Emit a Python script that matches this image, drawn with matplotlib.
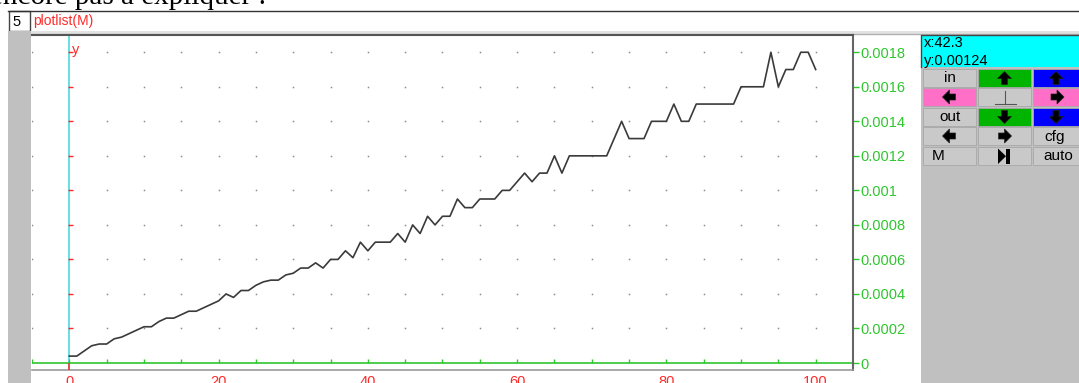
import matplotlib
matplotlib.use("Agg")
import matplotlib.pyplot as plt
from matplotlib.patches import Rectangle, Polygon
import numpy as np

plt.rcParams['font.family'] = ['Liberation Sans', 'DejaVu Sans']

# ---------------- data ----------------
M = [0.00004, 0.00004, 0.00007, 0.0001, 0.00011, 0.00011, 0.00014, 0.00015, 0.00017, 0.00019,
     0.00021, 0.00021, 0.00024, 0.00026, 0.00026, 0.00028, 0.0003, 0.0003, 0.00032, 0.00034,
     0.00036, 0.0004, 0.00038, 0.00042, 0.00042, 0.00045, 0.00047, 0.00048, 0.00048, 0.00051,
     0.00052, 0.00055, 0.00055, 0.00058, 0.00055, 0.0006, 0.0006, 0.00065, 0.00061, 0.0007,
     0.00065, 0.0007, 0.0007, 0.0007, 0.00075, 0.0007, 0.0008, 0.00075, 0.00085, 0.0008,
     0.00085, 0.00085, 0.00095, 0.0009, 0.0009, 0.00095, 0.00095, 0.00095, 0.001, 0.001,
     0.00105, 0.0011, 0.00105, 0.0011, 0.0011, 0.0012, 0.0011, 0.0012, 0.0012, 0.0012,
     0.0012, 0.0012, 0.0012, 0.0013, 0.0014, 0.0013, 0.0013, 0.0013, 0.0014, 0.0014,
     0.0014, 0.0015, 0.0014, 0.0014, 0.0015, 0.0015, 0.0015, 0.0015, 0.0015, 0.0015,
     0.0016, 0.0016, 0.0016, 0.0016, 0.0018, 0.0016, 0.0017, 0.0017, 0.0018, 0.0018,
     0.0017]
x_ticks = [0, 20, 40, 60, 80, 100]
x_tick_labels = ['0', '20', '40', '60', '80', '100']
y_ticks = [0, 0.0002, 0.0004, 0.0006, 0.0008, 0.001, 0.0012, 0.0014, 0.0016, 0.0018]
y_tick_labels = ['0', '0.0002', '0.0004', '0.0006', '0.0008', '0.001', '0.0012',
                 '0.0014', '0.0016', '0.0018']
grid_x = list(range(-5, 106, 5))
cursor_lines = ['x:42.3', 'y:0.00124']
title_cmd = 'plotlist(M)'
line_no = '5'
prev_text = 'encore pas à expliquer :'

RED = '#ff2a2a'
GREEN = '#2fc62f'
CYAN_AX = '#3fd6d6'
PANEL = '#c0c0c0'
BTN = '#c9c9c9'

W, H = 1079, 383
fig = plt.figure(figsize=(W / 100, H / 100), dpi=100)
fig.patch.set_facecolor('white')

# ---------------- GUI background (pixel coordinates) ----------------
bg = fig.add_axes([0, 0, 1, 1], zorder=0)
bg.set_xlim(0, W)
bg.set_ylim(H, 0)
bg.axis('off')

bg.text(-10, 3.5, prev_text, family='Liberation Serif', fontsize=21, color='black', va='baseline')
bg.plot([8, W], [11, 11], color='#333333', lw=1)
bg.add_patch(Rectangle((9, 11), 21, 20, facecolor='white', edgecolor='#444444', lw=1))
bg.text(12, 21.5, line_no, fontsize=10.5, color='black', va='center')
bg.text(33, 21, title_cmd, fontsize=10, color=RED, va='center')
bg.add_patch(Rectangle((31, 31), W - 31, 4, facecolor='#e2e2e2', edgecolor='none'))
bg.plot([31, W], [33.5, 33.5], color='#b0b0b0', lw=1)
bg.add_patch(Rectangle((8, 31), 23, H - 31, facecolor=PANEL, edgecolor='none'))
bg.add_patch(Rectangle((921, 35), W - 921, H - 35, facecolor=PANEL, edgecolor='none'))

# cursor info box
bg.add_patch(Rectangle((921, 35), W - 921, 32, facecolor='#00ffff', edgecolor='none'))
bg.plot([921, 921, W], [67, 35, 35], color='#444444', lw=1)
bg.text(924, 43, cursor_lines[0], fontsize=10.5, color='black', va='center')
bg.text(924, 60.5, cursor_lines[1], fontsize=10.5, color='black', va='center')

cols = [(923, 976), (978, 1031), (1033, 1081)]
rows = [(69, 87), (88, 106), (108, 126), (127, 145), (147, 165)]
colors = [[BTN, '#00b400', '#0000ff'],
          ['#ff6ec7', BTN, '#ff6ec7'],
          [BTN, '#00b400', '#0000ff'],
          [BTN, BTN, BTN],
          [BTN, BTN, BTN]]


def arrow(cx, cy, direction):
    pts = np.array([(0, -7), (7, 0), (3, 0), (3, 6), (-3, 6), (-3, 0), (-7, 0)], float)
    if direction == 'down':
        pts[:, 1] *= -1
    elif direction == 'left':
        pts = pts[:, ::-1]
    elif direction == 'right':
        pts = pts[:, ::-1].copy()
        pts[:, 0] *= -1
    pts[:, 0] += cx
    pts[:, 1] += cy
    bg.add_patch(Polygon(pts, closed=True, facecolor='black', edgecolor='#222222', lw=0.5))


for r, (y0, y1) in enumerate(rows):
    for c, (x0, x1) in enumerate(cols):
        bg.add_patch(Rectangle((x0, y0), x1 - x0, y1 - y0, facecolor=colors[r][c],
                               edgecolor='#a8a8a8', lw=0.6))

cx = [(a + b) / 2 for a, b in cols]
cy = [(a + b) / 2 for a, b in rows]
bg.text(cx[0], cy[0], 'in', fontsize=11, ha='center', va='center')
arrow(cx[1], cy[0] + 0.5, 'up')
arrow(cx[2] - 1, cy[0] + 0.5, 'up')
arrow(cx[0], cy[1], 'left')
bg.plot([1005, 1005], [91, 104], color='#555555', lw=0.8)
bg.plot([995, 1016], [104, 104], color='#555555', lw=0.8)
arrow(cx[2], cy[1], 'right')
bg.text(cx[0], cy[2], 'out', fontsize=11, ha='center', va='center')
arrow(cx[1], cy[2] - 0.5, 'down')
arrow(cx[2] - 1, cy[2] - 0.5, 'down')
arrow(cx[0], cy[3], 'left')
arrow(cx[1], cy[3], 'right')
bg.text(1055, cy[3] + 1, 'cfg', fontsize=11, ha='center', va='center')
bg.text(938, cy[4], 'M', fontsize=11, ha='center', va='center')
bg.add_patch(Polygon([(998, 148.5), (998, 164), (1006, 156.2)], closed=True, facecolor='black'))
bg.add_patch(Rectangle((1006, 148.5), 3.5, 15.5, facecolor='black'))
bg.text(1058, cy[4], 'auto', fontsize=11, ha='center', va='center')

# ---------------- plot area ----------------
ymin, ymax = -0.0000405, 0.0019
ax = fig.add_axes([32 / W, (H - 370) / H, 821 / W, 335 / H], zorder=1)
ax.set_xlim(-5, 105)
ax.set_ylim(ymin, ymax)
ax.set_facecolor('white')

gx, gy = np.meshgrid(grid_x, y_ticks[1:])
ax.plot(gx.ravel(), gy.ravel(), ls='none', marker='s', ms=1.1, color='#8c8c8c', mew=0)

ax.axvline(0, color=CYAN_AX, lw=1.1, zorder=2)
ax.axhline(0, color=GREEN, lw=1.2, zorder=2)
ax.vlines(grid_x, 0, 0.000023, color=GREEN, lw=1, zorder=2)
ax.hlines(y_ticks[1:], -0.15, 0.55, color=RED, lw=1, zorder=3)
ax.vlines(0, ymin, 0, color=RED, lw=1.1, zorder=3)
ax.text(0.3, 0.001815, 'y', color=RED, fontsize=10.5, va='center', ha='left')

ax.plot(range(len(M)), M, color='#3a3a3a', lw=1.2, zorder=4)

ax.set_xticks(x_ticks)
ax.set_xticklabels(x_tick_labels)
ax.tick_params(axis='x', length=0, pad=3.5, labelcolor=RED, labelsize=10.5)
ax.yaxis.tick_right()
ax.set_yticks(y_ticks)
ax.set_yticklabels(y_tick_labels)
ax.tick_params(axis='y', length=4, width=1, color=GREEN, labelcolor=GREEN, labelsize=10.5,
               pad=1, direction='out')

ax.spines['left'].set_visible(False)
ax.spines['top'].set_color('#555555')
ax.spines['top'].set_linewidth(1.5)
ax.spines['right'].set_color('#666666')
ax.spines['right'].set_linewidth(1.5)
ax.spines['bottom'].set_color('#999999')
ax.spines['bottom'].set_linewidth(1.2)

fig.savefig('out.png', dpi=100, facecolor='white')
